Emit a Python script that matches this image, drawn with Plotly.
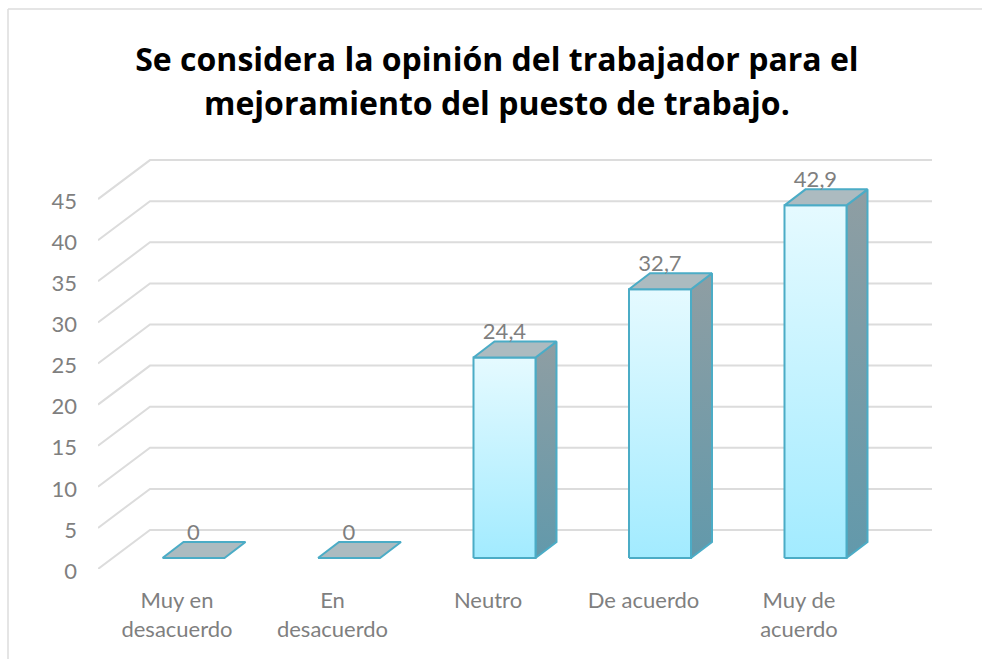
import plotly.graph_objects as go

categories = ["Muy en<br>desacuerdo", "En<br>desacuerdo", "Neutro", "De acuerdo", "Muy de<br>acuerdo"]
values = [0, 0, 24.4, 32.7, 42.9]
value_labels = ["0", "0", "24,4", "32,7", "42,9"]
y_ticks = [0, 5, 10, 15, 20, 25, 30, 35, 40, 45]
title_lines = ["Se considera la opinión del trabajador para el", "mejoramiento del puesto de trabajo."]

W, H = 982, 659
L, R, T, B = 98, 932, 159, 569
PX_X = 155.5   # pixels per category
PX_Y = 8.22    # pixels per value unit
xr = [(L - 177) / PX_X, (R - 177) / PX_X]
yr = [0, (B - T) / PX_Y]

wall_dx, wall_dy = 52 / PX_X, 39 / PX_Y
bar_off_x, bar_off_y = 16.5 / PX_X, 11 / PX_Y
half = 31 / PX_X
dep_x, dep_y = 21 / PX_X, 16 / PX_Y
lab_dy = 24 / PX_Y

GRID = "#DCDCDC"
EDGE = "#4BACC6"
TXT = "#7F7F7F"

fig = go.Figure()

# walls: one bent line per tick
for v in y_ticks + [50 - 0.24]:
    if v > 45:
        xs = [xr[0] + wall_dx, xr[1]]
        ys = [45 + wall_dy, 45 + wall_dy]
    else:
        xs = [xr[0], xr[0] + wall_dx, xr[1]]
        ys = [v, v + wall_dy, v + wall_dy]
    fig.add_trace(go.Scatter(x=xs, y=ys, mode="lines", line=dict(color=GRID, width=2), hoverinfo="skip"))


def face(xs, ys, top, bottom, line_w=2):
    fig.add_trace(go.Scatter(
        x=xs + xs[:1], y=ys + ys[:1], mode="lines", fill="toself",
        fillgradient=dict(type="vertical", colorscale=[[0, top], [1, bottom]]),
        line=dict(color=EDGE, width=line_w), hoverinfo="skip"))


for i, v in enumerate(values):
    x0 = i + bar_off_x - half
    x1 = i + bar_off_x + half
    y0 = bar_off_y
    y1 = v + bar_off_y
    if v > 0:
        face([x1, x1 + dep_x, x1 + dep_x, x1], [y0, y0 + dep_y, y1 + dep_y, y1], "#6299AB", "#8F9EA3")
        face([x0, x1, x1, x0], [y0, y0, y1, y1], "#A2EBFF", "#E5FAFF")
    face([x0, x1, x1 + dep_x, x0 + dep_x], [y1, y1, y1 + dep_y, y1 + dep_y], "#ACBBC0", "#ACBBC0")

fig.add_trace(go.Scatter(
    x=[i + bar_off_x for i in range(len(values))],
    y=[v + bar_off_y + lab_dy for v in values],
    text=value_labels, mode="text", textposition="middle center",
    textfont=dict(family="Lato", size=22, color=TXT), hoverinfo="skip"))

title = "<br>".join(f'<span style="font-size:32px">{s}</span>' for s in title_lines)

fig.update_layout(
    width=W, height=H, autosize=False, showlegend=False,
    paper_bgcolor="white", plot_bgcolor="white",
    margin=dict(l=L, r=W - R, t=T, b=H - B, pad=0),
    title=dict(text=title, x=0.506, xref="container", xanchor="center", y=0.893, yref="container", yanchor="middle",
               font=dict(family="Open Sans", size=34.6, color="black", weight="bold")),
    xaxis=dict(range=xr, showgrid=False, zeroline=False, showline=False, ticks="",
               tickmode="array", tickvals=list(range(len(categories))), ticktext=categories,
               tickfont=dict(family="Lato", size=22, color=TXT), ticklabelstandoff=16),
    yaxis=dict(range=yr, showgrid=False, zeroline=False, showline=False, ticks="",
               tickmode="array", tickvals=y_ticks, ticktext=[str(t) for t in y_ticks],
               tickfont=dict(family="Lato", size=22, color=TXT), ticklabelstandoff=20, ticklabelshift=2),
    shapes=[
        dict(type="line", xref="paper", yref="paper", x0=(8 - L) / (R - L), x1=(W - L) / (R - L),
             y0=(B - 9) / (B - T), y1=(B - 9) / (B - T), line=dict(color=GRID, width=1.5)),
        dict(type="line", xref="paper", yref="paper", x0=(8 - L) / (R - L), x1=(8 - L) / (R - L),
             y0=(B - 9) / (B - T), y1=(B - H) / (B - T), line=dict(color=GRID, width=1.5)),
    ],
)

fig.write_html("out.html", config=dict(displayModeBar=False), post_script="document.body.style.margin='0';")
